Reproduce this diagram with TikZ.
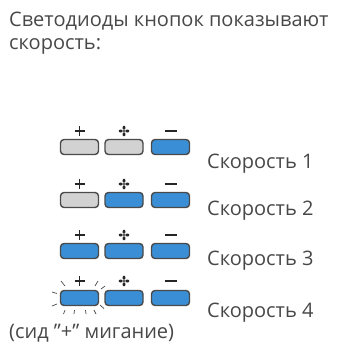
\documentclass[tikz,border=0pt]{standalone}
\usepackage{fontspec}
\setmainfont{Open Sans}
\definecolor{txt}{HTML}{484848}
\definecolor{ledblue}{HTML}{3A8ED6}
\definecolor{ledgray}{HTML}{D2D2D2}
\definecolor{rim}{HTML}{4A4A4A}
\begin{document}
\begin{tikzpicture}[x=1pt,y=-1pt,
  btn/.style={draw=rim, line width=1.4pt, rounded corners=3.5pt, minimum width=38pt, minimum height=15pt, inner sep=0pt},
  on/.style={btn, fill=ledblue},
  off/.style={btn, fill=ledgray},
  lbl/.style={anchor=base west, inner sep=0pt, text=txt, font=\fontsize{20}{24}\selectfont},
  sym/.style={draw=black!85, line width=1.3pt},
  ray/.style={draw=rim, line width=0.7pt}]
\useasboundingbox (0,0) rectangle (340,354);
\node[lbl] (t1) at (9,26) {Светодиоды кнопок показывают};
\node[lbl] (t2) at (9,49) {скорость:};
% rows
\foreach \yt/\ca/\cb/\cc/\n/\lb in {139/off/off/on/1/168, 192/off/on/on/2/215, 243/on/on/on/3/265, 290/on/on/on/4/317}{
  \node[\ca] (b\n a) at (79.5,\yt+8) {};
  \node[\cb] (b\n b) at (124,\yt+8) {};
  \node[\cc] (b\n c) at (170.5,\yt+8) {};
  \node[lbl] (s\n) at (207,\lb) {Скорость \n};
}
% symbols
\foreach \ys in {131,184,235,281}{
  \draw[sym] (74.5,\ys) -- (84.5,\ys) (79.5,\ys-5) -- (79.5,\ys+5);
  \draw[sym, line width=1.1pt] (164.5,\ys) -- (176.5,\ys);
  \fill[black!85] (124,\ys) circle (1.1);
  \fill[black!85] (124,\ys-3.3) ellipse (1.5 and 2.0);
  \fill[black!85] (124,\ys+3.3) ellipse (1.5 and 2.0);
  \fill[black!85] (120.7,\ys) ellipse (2.0 and 1.5);
  \fill[black!85] (127.3,\ys) ellipse (2.0 and 1.5);
}
% rays around blinking +
\draw[ray] (61,281) -- (65,286);
\draw[ray] (98,281) -- (95,286);
\draw[ray] (52,292) -- (57,293.5);
\draw[ray] (52,306) -- (57,304);
\draw[ray] (105,286) -- (101,289);
\draw[ray] (100,305) -- (104,308.5);
\draw[ray] (65,310) -- (63.5,314);
\draw[ray] (74.5,310) -- (74,314);
\draw[ray] (85.5,310) -- (86,314);
\draw[ray] (94,310) -- (96,314);
\node[lbl] (f) at (9,338) {(сид \char"22+\char"22{} мигание)};
\end{tikzpicture}
\end{document}
